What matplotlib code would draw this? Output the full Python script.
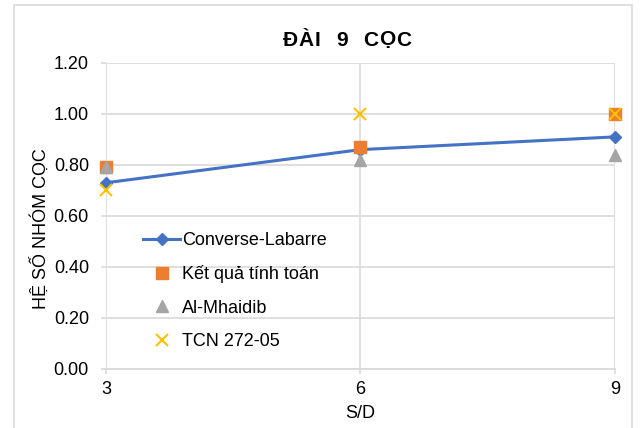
import matplotlib.pyplot as plt
from matplotlib.patches import Rectangle
from matplotlib.font_manager import FontProperties

plt.rcParams['font.family'] = ['Liberation Sans', 'DejaVu Sans']

# khoảng cách cọc S/D
sd = [3, 6, 9]
converse_labarre = [0.73, 0.86, 0.91]
ket_qua = [0.79, 0.87, 1.00]
al_mhaidib = [0.79, 0.82, 0.84]
tcn_272 = [0.70, 1.00, 1.00]
yticks = [0.0, 0.2, 0.4, 0.6, 0.8, 1.0, 1.2]

grid_c = '#d9d9d9'
fs = 13

fig = plt.figure(figsize=(6.42, 4.28), dpi=100)
ax = fig.add_axes([0.165, 0.138, 0.793, 0.715])

# khung ngoài của biểu đồ
fig.patches.append(Rectangle((14 / 642, -0.01), 618 / 642, 1 - 5 / 428 + 0.01,
                             transform=fig.transFigure, fill=False,
                             edgecolor=grid_c, linewidth=1.2))

ax.plot(sd, converse_labarre, color='#4472C4', lw=2.2, marker='D', ms=6,
        label='Converse-Labarre', clip_on=False, zorder=3)
ax.plot(sd, ket_qua, ls='none', marker='s', ms=9, color='#ED7D31',
        label='Kết quả tính toán', clip_on=False, zorder=4)
ax.plot(sd, al_mhaidib, ls='none', marker='^', ms=8, color='#A5A5A5',
        label='Al-Mhaidib', clip_on=False, zorder=5)
ax.plot(sd, tcn_272, ls='none', marker='x', ms=8, mew=1.5, color='#FFC000',
        label='TCN 272-05', clip_on=False, zorder=6)

ax.set_xlim(3, 9)
ax.set_ylim(0, 1.2)
ax.set_xticks(sd)
ax.set_yticks(yticks)
ax.set_yticklabels(['%.2f' % v for v in yticks])
ax.grid(True, color=grid_c, lw=1.2)
ax.set_axisbelow(True)
for s in ['top', 'right', 'left']:
    ax.spines[s].set_visible(False)
ax.spines['bottom'].set_color(grid_c)
ax.spines['bottom'].set_linewidth(1.2)
ax.tick_params(axis='both', labelsize=fs, color=grid_c, length=3.6, width=1.2)
ax.tick_params(axis='y', pad=8.6)
ax.tick_params(axis='x', pad=5)


def spaced_text(s, xc, yc, size, track):
    # vẽ từng ký tự, giãn cách thêm `track` pixel
    r = fig.canvas.get_renderer()
    fp = FontProperties(family='Liberation Sans', size=size, weight='bold')
    ref_w = r.get_text_width_height_descent('H', fp, ismath=False)[0]
    adv = [r.get_text_width_height_descent(c + 'H', fp, ismath=False)[0] - ref_w
           for c in s]
    total = sum(adv) + track * (len(s) - 1)
    x = xc - total / 2
    W, H = fig.bbox.width, fig.bbox.height
    for c, a in zip(s, adv):
        if c != ' ':
            fig.text(x / W, yc / H, c, fontproperties=fp, ha='left', va='center')
        x += a + track


spaced_text('ĐÀI  9  CỌC', 347, 428 - 40, 15, 1.2)

ax.set_xlabel('S/D', fontsize=fs, labelpad=5)
ax.set_ylabel('HỆ SỐ NHÓM CỌC', fontsize=fs)
ax.yaxis.set_label_coords(-0.11, 0.46)

leg = ax.legend(loc='upper left', bbox_to_anchor=(0.04, 0.50), frameon=False,
                fontsize=fs, labelspacing=0.9, handlelength=2.1,
                handletextpad=0.1)

fig.savefig('out.png', dpi=100)
